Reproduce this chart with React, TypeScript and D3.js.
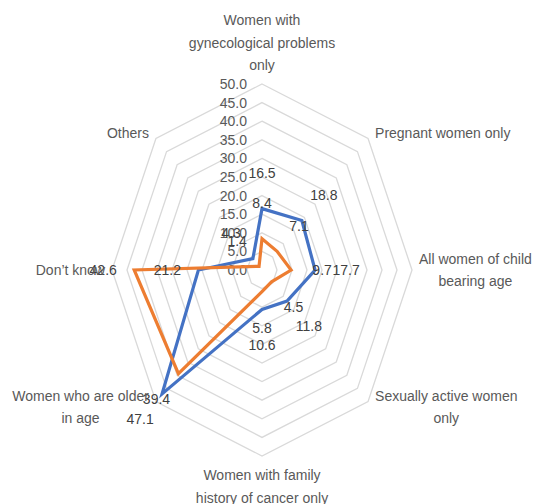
import React from "react";
import * as d3 from "d3";

const categories: string[][] = [
  ["Women with", "gynecological problems", "only"],
  ["Pregnant women only"],
  ["All women of child", "bearing age"],
  ["Sexually active women", "only"],
  ["Women with family", "history of cancer only"],
  ["Women who are older", "in age"],
  ["Don\u2019t know"],
  ["Others"],
];
const blueValues = [16.5, 18.8, 17.7, 11.8, 10.6, 47.1, 21.2, 4.3];
const orangeValues = [8.4, 7.1, 9.7, 4.5, 5.8, 39.4, 42.6, 1.4];
const tickValues = [0, 5, 10, 15, 20, 25, 30, 35, 40, 45, 50];

const W = 534;
const H = 504;
const CX = 262;
const CY = 270;
const FONT = "'Liberation Sans', Arial, sans-serif";
const FS = 14;
const TEXT = "#595959";
const LABEL = "#404040";
const GRID = "#d9d9d9";
const BLUE = "#4472C4";
const ORANGE = "#ED7D31";

const rx = d3.scaleLinear().domain([0, 50]).range([0, 150]);
const ry = d3.scaleLinear().domain([0, 50]).range([0, 186]);
const angle = d3.scaleLinear().domain([0, categories.length]).range([0, 2 * Math.PI]);

function pt(i: number, v: number): [number, number] {
  const a = angle(i);
  return [CX + Math.sin(a) * rx(v), CY - Math.cos(a) * ry(v)];
}

let ctx: CanvasRenderingContext2D | null = null;
function measure(s: string): number {
  if (!ctx && typeof document !== "undefined") {
    ctx = document.createElement("canvas").getContext("2d");
  }
  if (!ctx) return s.length * 7;
  ctx.font = `${FS}px ${FONT}`;
  return ctx.measureText(s).width;
}

export default function App() {
  const line = d3
    .line<number>()
    .x((v, i) => pt(i, v)[0])
    .y((v, i) => pt(i, v)[1])
    .curve(d3.curveLinearClosed);

  const ringPath = (v: number) => line(categories.map(() => v)) as string;

  const seriesList = [
    { values: blueValues, color: BLUE },
    { values: orangeValues, color: ORANGE },
  ];

  const LH = 22.5;
  const gap = 7;

  return (
    <svg
      width={W}
      height={H}
      style={{ position: "absolute", left: 0, top: 0, background: "#fff" }}
      fontFamily={FONT}
      fontSize={FS}
    >
      <rect width={W} height={H} fill="#fff" />
      {tickValues.slice(1).map((t) => (
        <path key={t} d={ringPath(t)} fill="none" stroke={GRID} strokeWidth={1.3} />
      ))}
      {tickValues.map((t) => (
        <text
          key={"t" + t}
          x={CX - 15}
          y={CY - ry(t)}
          textAnchor="end"
          dominantBaseline="central"
          fill={TEXT}
        >
          {t.toFixed(1)}
        </text>
      ))}
      {seriesList.map((s, k) => (
        <path
          key={"s" + k}
          d={line(s.values) as string}
          fill="none"
          stroke={s.color}
          strokeWidth={3.2}
          strokeLinejoin="miter"
        />
      ))}
      {seriesList.map((s, k) =>
        s.values.map((v, i) => {
          const [x, y] = pt(i, v);
          const a = angle(i);
          return (
            <text
              key={"l" + k + "-" + i}
              x={x + Math.sin(a) * 31}
              y={y - Math.cos(a) * 36}
              textAnchor="middle"
              dominantBaseline="central"
              fill={LABEL}
            >
              {v.toFixed(1)}
            </text>
          );
        })
      )}
      {categories.map((lines, i) => {
        const [vx, vy] = pt(i, 50);
        const a = angle(i);
        const s = Math.sin(a);
        const c = Math.cos(a);
        const n = lines.length;
        if (Math.abs(s) < 0.01) {
          const top = c > 0 ? vy - 19 - (n - 1) * LH : vy + 19;
          return lines.map((ln, j) => (
            <text
              key={"c" + i + "-" + j}
              x={vx}
              y={top + j * LH}
              textAnchor="middle"
              dominantBaseline="central"
              fill={TEXT}
            >
              {ln}
            </text>
          ));
        }
        const bw = Math.max(...lines.map(measure));
        const bx = s > 0 ? vx + gap + bw / 2 : vx - gap - bw / 2;
        const by = vy - c * 8;
        const top = by - ((n - 1) * LH) / 2;
        return lines.map((ln, j) => (
          <text
            key={"c" + i + "-" + j}
            x={bx}
            y={top + j * LH}
            textAnchor="middle"
            dominantBaseline="central"
            fill={TEXT}
          >
            {ln}
          </text>
        ));
      })}
    </svg>
  );
}
